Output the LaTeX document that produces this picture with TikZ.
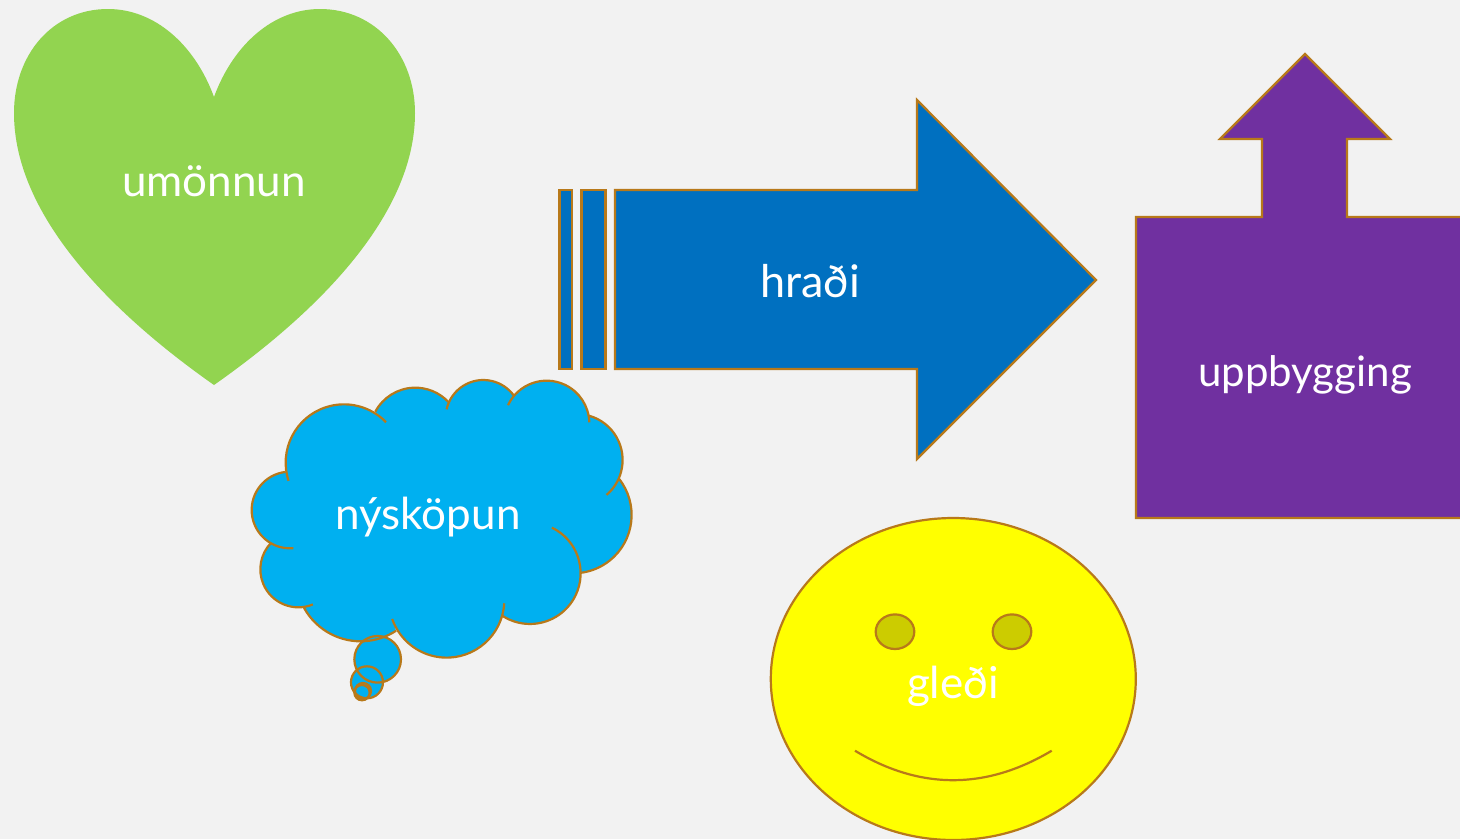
\documentclass[tikz,border=0pt]{standalone}
\usepackage{fontspec}
\setmainfont{Lato}
\definecolor{bgc}{HTML}{F2F2F2}
\definecolor{edgec}{HTML}{B8791A}
\definecolor{heartc}{HTML}{92D450}
\definecolor{bluec}{HTML}{0070C0}
\definecolor{cloudc}{HTML}{00B0F0}
\definecolor{purplec}{HTML}{7030A0}
\definecolor{eyec}{HTML}{CCCC00}
\definecolor{facec}{HTML}{FFFF00}
\tikzset{
  shapeline/.style={draw=edgec,line width=2.2pt,line join=miter},
  label/.style={text=white,inner sep=0pt,anchor=base,font=\fontsize{44}{44}\selectfont}
}
\newcommand{\lobe}[5]{(#1+#3*cos #4,#2+#3*sin #4) arc[start angle=#4,end angle=#5,radius=#3]}
\begin{document}
\begin{tikzpicture}[x=1pt,y=-1pt]
\useasboundingbox (0,0) rectangle (1460,839);
\clip (0,0) rectangle (1460,839);
\fill[bgc] (0,0) rectangle (1460,839);
% heart
\fill[heartc] (214,97) .. controls (195,45) and (155,9) .. (108,9)
  .. controls (52,9) and (14,55) .. (14,113)
  .. controls (14,215) and (110,312) .. (214,385)
  .. controls (318,312) and (415,215) .. (415,113)
  .. controls (415,55) and (376,9) .. (320,9)
  .. controls (273,9) and (233,45) .. (214,97) -- cycle;
% striped arrow
\draw[shapeline,fill=bluec] (559.5,190) rectangle (572,369);
\draw[shapeline,fill=bluec] (581.5,190) rectangle (605.5,369);
\draw[shapeline,fill=bluec] (615,190) -- (917,190) -- (917,100) -- (1096,280) -- (917,459) -- (917,369) -- (615,369) -- cycle;
% up arrow callout
\draw[shapeline,fill=purplec] (1136,217) -- (1262,217) -- (1262,139) -- (1220,139) -- (1305,54) -- (1390,139) -- (1347,139) -- (1347,217) -- (1475,217) -- (1475,518) -- (1136,518) -- cycle;
% cloud
\begin{scope}[shift={(240,370)},x=0.3333pt,y=-0.3333pt]
\fill[cloudc] \lobe{312}{278}{175}{161.9}{316.1}
  -- \lobe{526}{189}{136}{207.9}{316.5}
  -- \lobe{730}{143}{113}{192.8}{323.5}
  -- \lobe{920}{160}{128}{205.2}{358.6}
  -- \lobe{1010}{270}{138}{285.3}{409.4}
  -- \lobe{1000}{435}{175}{321.4}{442.8}
  -- \lobe{870}{610}{152}{295.6}{482.6}
  -- \lobe{620}{690}{173}{3.3}{160.8}
  -- \lobe{362}{620}{194}{56.8}{151.9}
  -- \lobe{175}{598}{114}{67.5}{224.3}
  -- \lobe{150}{420}{115}{85}{263.4} -- cycle;
\fill[cloudc] (413,868) circle[radius=70];
\fill[cloudc] (381,937) circle[radius=48];
\fill[cloudc] (366,968) circle[radius=23];
\foreach \cx/\cy/\r/\a/\b in {312/278/175/161.9/316.1,526/189/136/207.9/316.5,730/143/113/192.8/323.5,920/160/128/205.2/358.6,1010/270/138/285.3/409.4,1000/435/175/321.4/442.8,870/610/152/295.6/482.6,620/690/173/3.3/160.8,362/620/194/56.8/151.9,175/598/114/67.5/224.3,150/420/115/85/263.4}
  \draw[draw=edgec,line width=2.2pt] \lobe{\cx}{\cy}{\r}{\a}{\b};
\draw[draw=edgec,line width=2.2pt] (413,868) circle[radius=70];
\draw[draw=edgec,line width=2.2pt] (381,937) circle[radius=48];
\draw[draw=edgec,line width=2.2pt] (369,963) circle[radius=24];
\draw[draw=edgec,line width=2.2pt] (366,968) circle[radius=23];
\end{scope}
% smiley
\draw[shapeline,fill=facec] (953.3,679) ellipse[x radius=182.5,y radius=161];
\draw[shapeline,fill=eyec] (895,631.7) ellipse[x radius=19.3,y radius=17.3];
\draw[shapeline,fill=eyec] (1012,631.7) ellipse[x radius=19.3,y radius=17.3];
\coordinate (mouthL) at (855,750.7);
\coordinate (mouthR) at (1051.7,750.7);
\draw[shapeline] (mouthL) .. controls (920,790) and (986,790) .. (mouthR);
% labels
\node[label] (umonnun) at (214,196) {umönnun};
\node[label,font=\fontsize{45}{45}\selectfont] (hradi) at (810,297) {hraði};
\node[label,font=\fontsize{42}{42}\selectfont] (uppbygging) at (1305,386) {uppbygging};
\node[label] (nyskopun) at (428,529) {nýsköpun};
\node[label] (gledi) at (953,698) {gleði};
\end{tikzpicture}
\end{document}
